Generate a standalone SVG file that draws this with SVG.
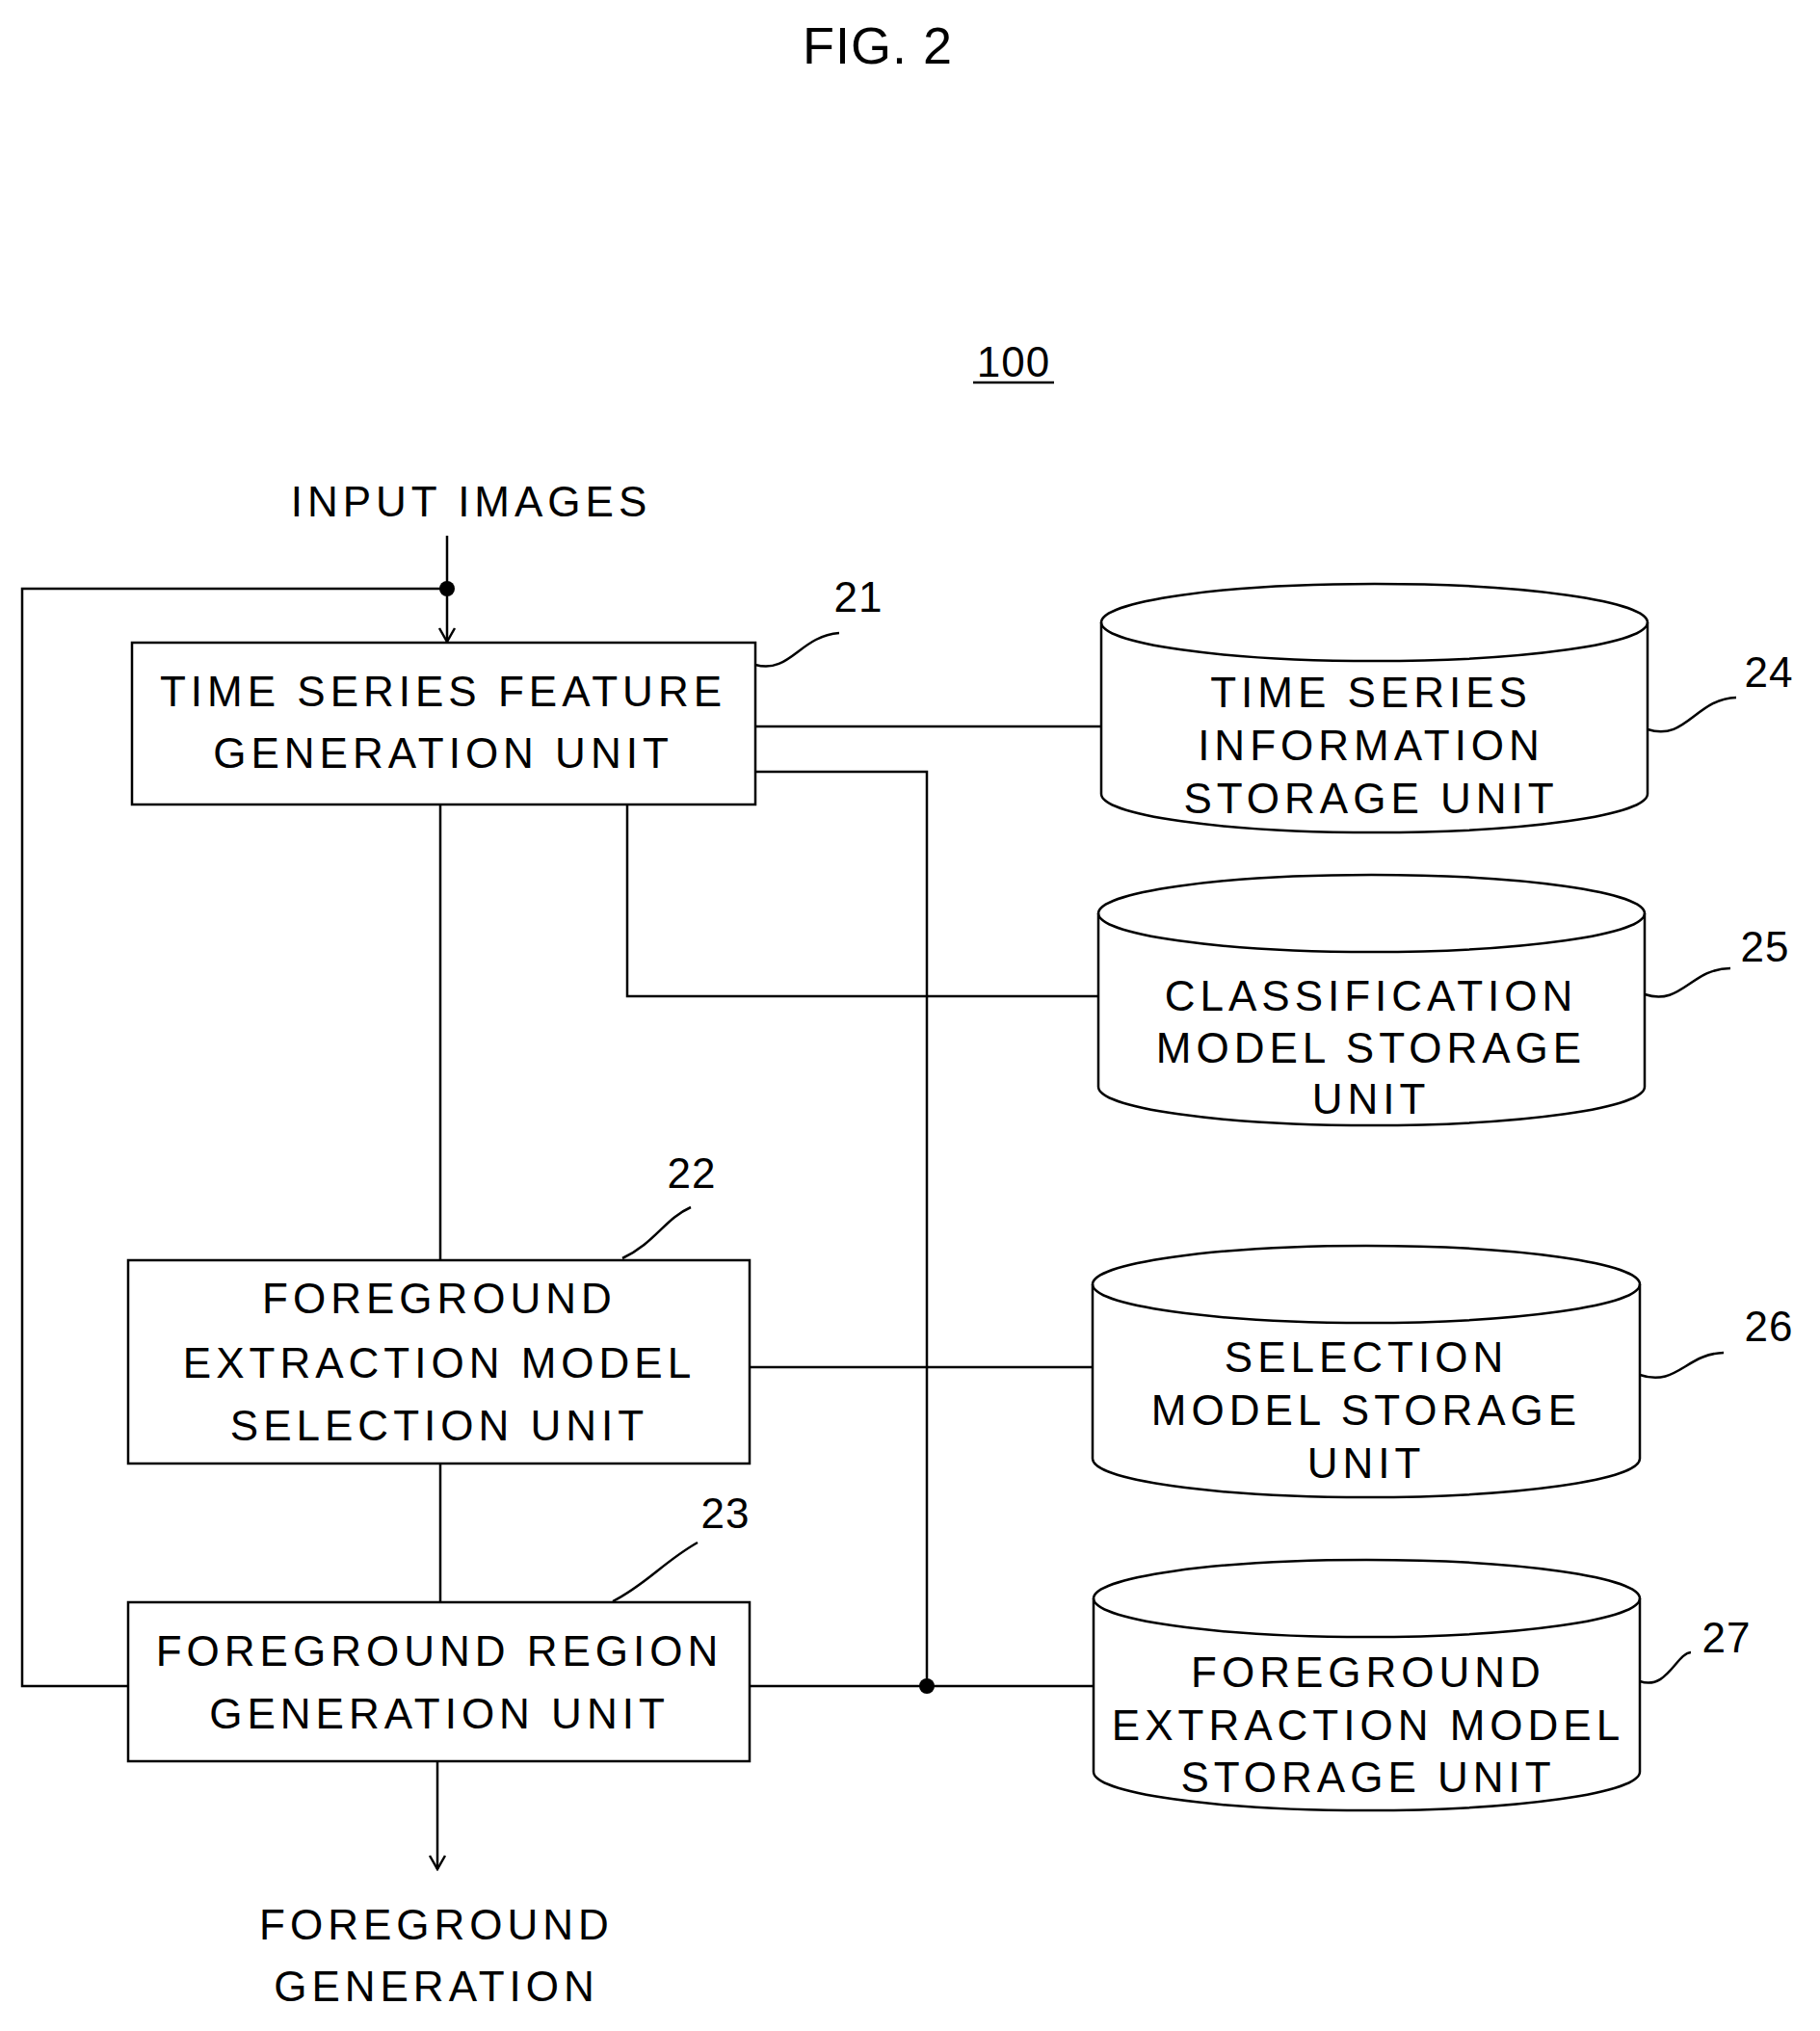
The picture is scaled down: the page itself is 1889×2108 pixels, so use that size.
<svg xmlns="http://www.w3.org/2000/svg" width="1889" height="2108" viewBox="0 0 1889 2108">
<style>
.t{font-family:"Liberation Sans",Arial,sans-serif;font-size:44px;letter-spacing:5px;text-anchor:middle;dominant-baseline:central;fill:#000}
.b{fill:#fff;stroke:#000;stroke-width:2.5}
.l{fill:none;stroke:#000;stroke-width:2.5}
</style>
<defs><marker id="a" markerWidth="20" markerHeight="20" refX="18" refY="10" orient="auto" markerUnits="userSpaceOnUse" viewBox="0 0 20 20"><path d="M4,2 L18,10 L4,18" fill="none" stroke="#000" stroke-width="2.5"/></marker></defs>
<rect width="1889" height="2108" fill="#fff"/>
<text class="t" x="911" y="47" style="font-size:54px;letter-spacing:1px">FIG. 2</text>
<text class="t" x="1052" y="375" style="letter-spacing:1px">100</text>
<line class="l" x1="1010" y1="397" x2="1094" y2="397"/>
<text class="t" x="489" y="520">INPUT IMAGES</text>
<g id="connectors">
<line class="l" x1="464" y1="556" x2="464" y2="666" marker-end="url(#a)"/>
<polyline class="l" points="464,611 23,611 23,1750 133,1750"/>
<circle cx="464" cy="611" r="8"/>
<line class="l" x1="457" y1="835" x2="457" y2="1308"/>
<line class="l" x1="457" y1="1519" x2="457" y2="1663"/>
<line class="l" x1="784" y1="754" x2="1143" y2="754"/>
<polyline class="l" points="784,801 962,801 962,1750"/>
<polyline class="l" points="651,835 651,1034 1140,1034"/>
<line class="l" x1="778" y1="1419" x2="1134" y2="1419"/>
<line class="l" x1="778" y1="1750" x2="1135" y2="1750"/>
<circle cx="962" cy="1750" r="8"/>
<line class="l" x1="454" y1="1828" x2="454" y2="1940" marker-end="url(#a)"/>
<path class="l" d="M784,690 C820,700 830,660 871,657"/>
<path class="l" d="M1710,757 C1750,770 1760,725 1802,724"/>
<path class="l" d="M1707,1032 C1745,1045 1755,1005 1796,1005"/>
<path class="l" d="M1702,1427 C1740,1440 1750,1405 1789,1404"/>
<path class="l" d="M1702,1745 C1730,1755 1740,1716 1755,1715"/>
<path class="l" d="M646,1306 C680,1290 690,1265 717,1253"/>
<path class="l" d="M636,1662 C670,1645 690,1620 724,1601"/>
</g>
<text class="t" x="891" y="619" style="letter-spacing:1px">21</text>
<text class="t" x="1836" y="697" style="letter-spacing:1px">24</text>
<text class="t" x="1832" y="982" style="letter-spacing:1px">25</text>
<text class="t" x="1836" y="1376" style="letter-spacing:1px">26</text>
<text class="t" x="1792" y="1699" style="letter-spacing:1px">27</text>
<text class="t" x="718" y="1217" style="letter-spacing:1px">22</text>
<text class="t" x="753" y="1570" style="letter-spacing:1px">23</text>
<g id="n21"><rect class="b" x="137" y="667" width="647" height="168"/>
<text class="t" x="460" y="717">TIME SERIES FEATURE</text><text class="t" x="460" y="781">GENERATION UNIT</text></g>
<g id="n22"><rect class="b" x="133" y="1308" width="645" height="211"/>
<text class="t" x="456" y="1347">FOREGROUND</text><text class="t" x="456" y="1414">EXTRACTION MODEL</text><text class="t" x="456" y="1479">SELECTION UNIT</text></g>
<g id="n23"><rect class="b" x="133" y="1663" width="645" height="165"/>
<text class="t" x="456" y="1713">FOREGROUND REGION</text><text class="t" x="456" y="1778">GENERATION UNIT</text></g>
<g id="n24"><path class="b" d="M1143,646 A283,40 0 0 1 1710,646 L1710,824 A283,40 0 0 1 1143,824 Z"/><path class="l" d="M1143,646 A283,40 0 0 0 1710,646"/>
<text class="t" x="1423" y="718">TIME SERIES</text><text class="t" x="1423" y="773">INFORMATION</text><text class="t" x="1423" y="828">STORAGE UNIT</text></g>
<g id="n25"><path class="b" d="M1140,948 A283,40 0 0 1 1707,948 L1707,1128 A283,40 0 0 1 1140,1128 Z"/><path class="l" d="M1140,948 A283,40 0 0 0 1707,948"/>
<text class="t" x="1423" y="1033">CLASSIFICATION</text><text class="t" x="1423" y="1087">MODEL STORAGE</text><text class="t" x="1423" y="1140">UNIT</text></g>
<g id="n26"><path class="b" d="M1134,1333 A284,40 0 0 1 1702,1333 L1702,1514 A284,40 0 0 1 1134,1514 Z"/><path class="l" d="M1134,1333 A284,40 0 0 0 1702,1333"/>
<text class="t" x="1418" y="1408">SELECTION</text><text class="t" x="1418" y="1463">MODEL STORAGE</text><text class="t" x="1418" y="1518">UNIT</text></g>
<g id="n27"><path class="b" d="M1135,1659 A283,40 0 0 1 1702,1659 L1702,1839 A283,40 0 0 1 1135,1839 Z"/><path class="l" d="M1135,1659 A283,40 0 0 0 1702,1659"/>
<text class="t" x="1420" y="1735">FOREGROUND</text><text class="t" x="1420" y="1790">EXTRACTION MODEL</text><text class="t" x="1420" y="1844">STORAGE UNIT</text></g>
<text class="t" x="453" y="1997">FOREGROUND</text>
<text class="t" x="453" y="2061">GENERATION</text>
</svg>
